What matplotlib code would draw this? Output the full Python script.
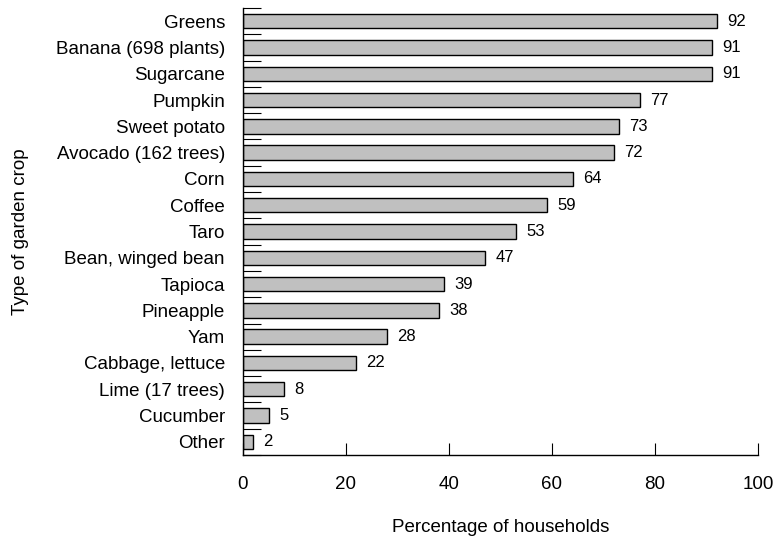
import numpy as np
import matplotlib.pyplot as plt

plt.rcParams['font.family'] = ['Liberation Sans', 'DejaVu Sans']

crops = ['Greens', 'Banana (698 plants)', 'Sugarcane', 'Pumpkin', 'Sweet potato',
         'Avocado (162 trees)', 'Corn', 'Coffee', 'Taro', 'Bean, winged bean',
         'Tapioca', 'Pineapple', 'Yam', 'Cabbage, lettuce', 'Lime (17 trees)',
         'Cucumber', 'Other']
pct = [92, 91, 91, 77, 73, 72, 64, 59, 53, 47, 39, 38, 28, 22, 8, 5, 2]
xticks = [0, 20, 40, 60, 80, 100]

fig = plt.figure(figsize=(7.78, 5.39), dpi=100)
ax = fig.add_axes([243 / 778, 1 - 455 / 539, 515 / 778, 447 / 539])

y = np.arange(len(crops))[::-1]
ax.barh(y, pct, height=0.55, color='#c0c0c0', edgecolor='black', linewidth=1.0)
for yi, v in zip(y, pct):
    ax.text(v + 2, yi, str(v), va='center', ha='left', fontsize=12)

ax.set_xlim(0, 100)
ax.set_ylim(-0.5, len(crops) - 0.5)
ax.set_xticks(xticks)
ax.set_xticklabels([str(t) for t in xticks], fontsize=13.5)
ax.set_yticks(y)
ax.set_yticklabels(crops, fontsize=13.5)
ax.set_yticks(np.arange(len(crops) + 1) - 0.5, minor=True)
ax.tick_params(axis='y', which='major', length=0, pad=13)
ax.tick_params(axis='y', which='minor', direction='in', length=13, width=0.8)
ax.tick_params(axis='x', direction='in', length=9, width=0.8, pad=15)

for s in ['top', 'right']:
    ax.spines[s].set_visible(False)
ax.spines['left'].set_linewidth(1.0)
ax.spines['bottom'].set_linewidth(1.0)

ax.set_xlabel('Percentage of households', fontsize=13.5, labelpad=19)
ax.set_ylabel('Type of garden crop', fontsize=13.5, labelpad=19)

fig.savefig('out.png', dpi=100)
